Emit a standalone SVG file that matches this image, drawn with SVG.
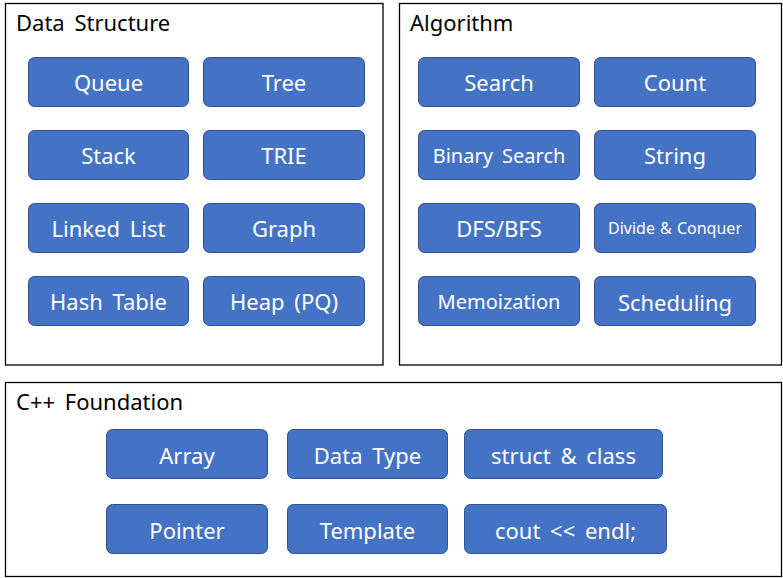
<svg xmlns="http://www.w3.org/2000/svg" width="783" height="578" viewBox="0 0 783 578">
<style>
.panel{fill:#fff;stroke:#000;stroke-width:1.3}
.title{font-family:"Noto Sans","Noto Sans CJK KR",sans-serif;font-size:22px;fill:#000;word-spacing:4px}
.btn rect{fill:#4472C4;stroke:#2F528F;stroke-width:1}
.btn text{font-family:"Noto Sans","Noto Sans CJK KR",sans-serif;font-size:22px;fill:#fff;text-anchor:middle;dominant-baseline:central;word-spacing:4px}
.btn text.sm{font-size:20px}
.btn text.xs{font-size:16px;word-spacing:1px}
</style>
<g id="panel-ds"><rect class="panel" x="5.5" y="3.5" width="377.5" height="361.5"/><text class="title" x="16" y="31">Data Structure</text></g>
<g id="panel-algo"><rect class="panel" x="399.5" y="3.5" width="382" height="361.5"/><text class="title" x="410" y="31">Algorithm</text></g>
<g id="panel-cpp"><rect class="panel" x="5.5" y="382.5" width="776" height="194"/><text class="title" x="16" y="410">C++ Foundation</text></g>
<g id="queue" class="btn"><rect x="28.5" y="57.5" width="160" height="49" rx="6"/><text x="108.5" y="82">Queue</text></g>
<g id="tree" class="btn"><rect x="203.5" y="57.5" width="161" height="49" rx="6"/><text x="284" y="82">Tree</text></g>
<g id="stack" class="btn"><rect x="28.5" y="130.5" width="160" height="49" rx="6"/><text x="108.5" y="155">Stack</text></g>
<g id="trie" class="btn"><rect x="203.5" y="130.5" width="161" height="49" rx="6"/><text x="284" y="155">TRIE</text></g>
<g id="linked-list" class="btn"><rect x="28.5" y="203.5" width="160" height="49" rx="6"/><text x="108.5" y="228">Linked List</text></g>
<g id="graph" class="btn"><rect x="203.5" y="203.5" width="161" height="49" rx="6"/><text x="284" y="228">Graph</text></g>
<g id="hash-table" class="btn"><rect x="28.5" y="276.5" width="160" height="49" rx="6"/><text x="108.5" y="301">Hash Table</text></g>
<g id="heap" class="btn"><rect x="203.5" y="276.5" width="161" height="49" rx="6"/><text x="284" y="301">Heap (PQ)</text></g>
<g id="search" class="btn"><rect x="418.5" y="57.5" width="161" height="49" rx="6"/><text x="499" y="82">Search</text></g>
<g id="count" class="btn"><rect x="594.5" y="57.5" width="161" height="49" rx="6"/><text x="675" y="82">Count</text></g>
<g id="binary-search" class="btn"><rect x="418.5" y="130.5" width="161" height="49" rx="6"/><text class="sm" x="499" y="155">Binary Search</text></g>
<g id="string" class="btn"><rect x="594.5" y="130.5" width="161" height="49" rx="6"/><text x="675" y="155">String</text></g>
<g id="dfs-bfs" class="btn"><rect x="418.5" y="203.5" width="161" height="49" rx="6"/><text x="499" y="228">DFS/BFS</text></g>
<g id="divide-conquer" class="btn"><rect x="594.5" y="203.5" width="161" height="49" rx="6"/><text class="xs" x="675" y="228">Divide &amp; Conquer</text></g>
<g id="memoization" class="btn"><rect x="418.5" y="276.5" width="161" height="49" rx="6"/><text class="sm" x="499" y="301">Memoization</text></g>
<g id="scheduling" class="btn"><rect x="594.5" y="276.5" width="161" height="49" rx="6"/><text x="675" y="302">Scheduling</text></g>
<g id="array" class="btn"><rect x="106.5" y="429.5" width="161" height="49" rx="6"/><text x="187" y="455">Array</text></g>
<g id="data-type" class="btn"><rect x="287.5" y="429.5" width="160" height="49" rx="6"/><text x="367.5" y="455">Data Type</text></g>
<g id="struct-class" class="btn"><rect x="464.5" y="429.5" width="198" height="49" rx="6"/><text x="563.5" y="455">struct &amp; class</text></g>
<g id="pointer" class="btn"><rect x="106.5" y="504.5" width="161" height="49" rx="6"/><text x="187" y="530">Pointer</text></g>
<g id="template" class="btn"><rect x="287.5" y="504.5" width="160" height="49" rx="6"/><text x="367.5" y="530">Template</text></g>
<g id="cout-endl" class="btn"><rect x="464.5" y="504.5" width="202" height="49" rx="6"/><text x="565.5" y="530">cout &lt;&lt; endl;</text></g>
<g id="connectors"/>
</svg>
